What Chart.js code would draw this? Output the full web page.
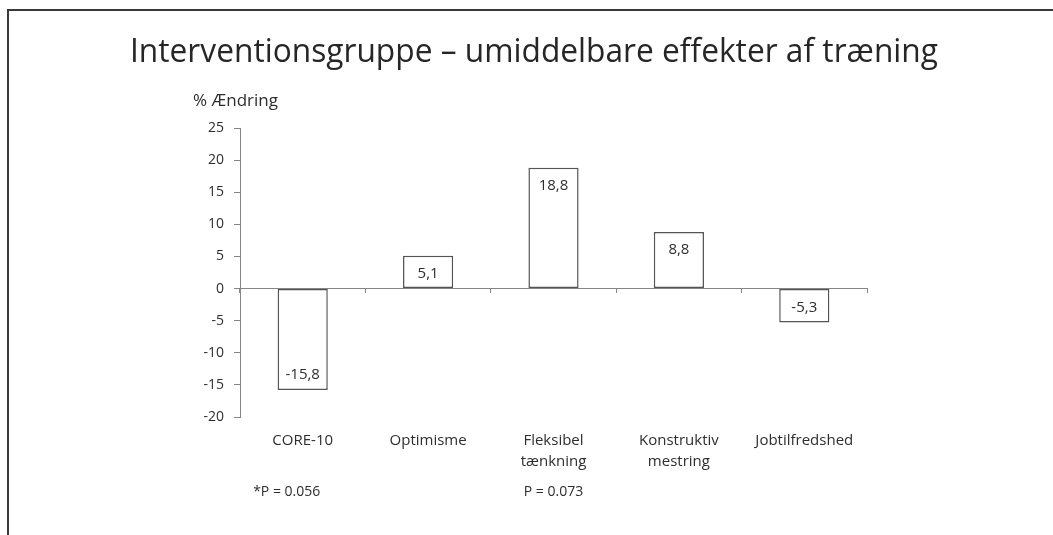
<!DOCTYPE html>
<html>
<head>
<meta charset="utf-8">
<script src="https://cdn.jsdelivr.net/npm/chart.js@4.4.0/dist/chart.umd.min.js"></script>
<style>
	html, body { margin: 0; padding: 0; background: #fff; }
	#wrap { position: relative; width: 1053px; height: 535px; overflow: hidden; }
	#frame { position: absolute; left: 7px; top: 9px; right: -4px; bottom: -4px; border-left: 2px solid #3a3a3a; border-top: 2px solid #3a3a3a; }
	canvas { position: absolute; left: 0; top: 0; }
</style>
</head>
<body>
<div id="wrap">
	<div id="frame"></div>
	<canvas id="myChart" width="1053" height="535"></canvas>
</div>
<script>
const TITLE = 'Interventionsgruppe – umiddelbare effekter af træning'
const Y_TITLE = '% Ændring'
const CATEGORIES = ['CORE-10', 'Optimisme', ['Fleksibel', 'tænkning'], ['Konstruktiv', 'mestring'], 'Jobtilfredshed']
const VALUES = [-15.8, 5.1, 18.8, 8.8, -5.3]
const P_NOTES = ['*P = 0.056', '', 'P = 0.073', '', '']
const Y_MIN = -20
const Y_MAX = 25
const Y_STEP = 5

const FONT = '"Open Sans", Lato, sans-serif'
const TEXT = '#2e2e2e'
const AXIS = '#858585'

const fmt = v => v.toFixed(1).replace('.', ',')

// labels inside the end of each bar
const barLabels = {
	id: 'barLabels',
	afterDatasetsDraw(chart) {
		const { ctx } = chart
		const meta = chart.getDatasetMeta(0)
		ctx.save()
		ctx.font = `15px ${FONT}`
		ctx.fillStyle = TEXT
		ctx.textAlign = 'center'
		ctx.textBaseline = 'middle'
		meta.data.forEach((bar, i) => {
			const v = VALUES[i]
			const y = v >= 0 ? bar.y + 18 : bar.y - 15
			ctx.fillText(fmt(v), bar.x, y)
		})
		ctx.restore()
	}
}

// title, axis title, category names and p-values
const slideText = {
	id: 'slideText',
	afterDraw(chart) {
		const { ctx, chartArea } = chart
		const x = chart.scales.x
		ctx.save()
		// title: Calibri-like narrow look, squeeze to the slide width
		ctx.fillStyle = '#262626'
		ctx.font = `33px ${FONT}`
		ctx.textAlign = 'left'
		ctx.textBaseline = 'alphabetic'
		const sx = 808 / ctx.measureText(TITLE).width
		ctx.save()
		ctx.translate(130, 62)
		ctx.scale(sx, 1)
		ctx.fillText(TITLE, 0, 0)
		ctx.restore()

		ctx.fillStyle = TEXT
		ctx.font = `17px ${FONT}`
		ctx.textBaseline = 'middle'
		ctx.fillText(Y_TITLE, 193, 101)

		ctx.textAlign = 'center'
		CATEGORIES.forEach((label, i) => {
			const lines = [].concat(label)
			const cx = x.getPixelForValue(i)
			ctx.font = `15px ${FONT}`
			lines.forEach((line, j) => ctx.fillText(line, cx, chartArea.bottom + 24 + j * 21))
			const note = P_NOTES[i]
			ctx.font = `14px ${FONT}`
			if (note) ctx.fillText(note, cx - (note.startsWith('*') ? 16 : 0), chartArea.bottom + 75)
		})
		ctx.restore()
	}
}

const CHART = new Chart(document.getElementById('myChart'), {
	type: 'bar',
	data: {
		labels: CATEGORIES,
		datasets: [{
			data: VALUES,
			backgroundColor: '#fff',
			borderColor: '#555',
			borderWidth: 1.5,
			borderSkipped: false,
			categoryPercentage: 1,
			barPercentage: 0.4
		}]
	},
	options: {
		responsive: false,
		animation: false,
		devicePixelRatio: 1,
		layout: {
			padding: { left: 0, top: 128, right: 186, bottom: 118 }
		},
		scales: {
			x: {
				type: 'category',
				position: { y: 0 },
				offset: true,
				grid: {
					offset: true,
					drawOnChartArea: false,
					drawTicks: true,
					tickLength: 4,
					color: AXIS
				},
				border: { display: true, color: AXIS },
				ticks: { display: false }
			},
			y: {
				min: Y_MIN,
				max: Y_MAX,
				afterFit(scale) { scale.width = 240 },
				ticks: {
					stepSize: Y_STEP,
					padding: 10,
					color: TEXT,
					font: { family: FONT, size: 14 }
				},
				grid: {
					drawOnChartArea: false,
					tickLength: 6,
					color: AXIS
				},
				border: { display: true, color: AXIS }
			}
		},
		plugins: {
			legend: { display: false },
			title: { display: false },
			tooltip: { enabled: false }
		}
	},
	plugins: [barLabels, slideText]
})
</script>
</body>
</html>
